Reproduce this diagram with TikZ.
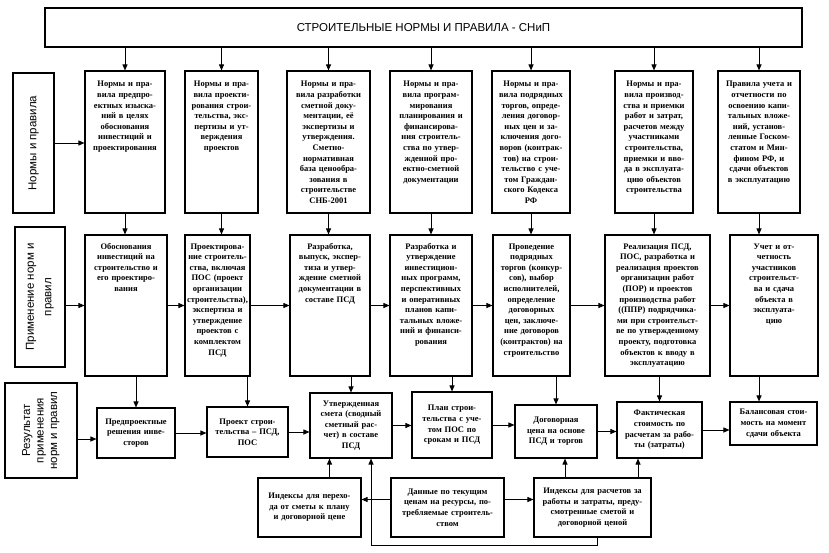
\documentclass[tikz,border=0pt]{standalone}
\usepackage{fontspec}
\setmainfont{Liberation Serif}
\newfontfamily\snipsans{Liberation Sans}
\usepackage{graphicx}
\usetikzlibrary{arrows.meta, positioning}

\begin{document}
\begin{tikzpicture}[x=1pt, y=-1pt,
  box/.style={rectangle, draw, line width=1.1pt, inner xsep=1pt, inner ysep=2pt,
    align=center, font=\fontsize{8.5}{10.6}\selectfont\bfseries},
  normbox/.style={box, text width=#1pt-2pt, text height=14pt, text depth=124pt},
  applbox/.style={box, text width=#1pt-2pt, text height=12pt, text depth=125pt},
  resbox/.style={box, text width=#1pt-2pt},
  rowlabel/.style={rectangle, draw, line width=1.1pt,
    font=\snipsans\fontsize{11.5}{13.5}\selectfont},
  arrow/.style={-{Triangle[length=6pt, width=5pt]}, line width=0.9pt}
]
\useasboundingbox (0,0) rectangle (829,553);

\node[draw, line width=1.4pt, minimum width=757pt, minimum height=39pt,
  font=\snipsans\fontsize{11.5}{13}\selectfont] (title) at (423.5,27.5)
  {СТРОИТЕЛЬНЫЕ НОРМЫ И ПРАВИЛА - СНиП};

\node[rowlabel, minimum width=41pt, minimum height=140pt] (lab1) at (33.5,143)
  {\rotatebox{90}{Нормы и правила}};
\node[rowlabel, minimum width=50pt, minimum height=140pt] (lab2) at (40,297)
  {\rotatebox{90}{\begin{tabular}{@{}c@{}}Применение норм и\\[4pt]правил\end{tabular}}};
\node[rowlabel, minimum width=72pt, minimum height=95pt] (lab3) at (41,430.5)
  {\rotatebox{90}{\begin{tabular}{@{}c@{}}Результат\\применения\\норм и правил\end{tabular}}};

\node[normbox=80] (n1) at (125,142)
  {Нормы и пра-\\вила предпро-\\ектных изыска-\\ний в целях\\обоснования\\инвестиций и\\проектирования};
\node[normbox=73] (n2) at (221.5,142)
  {Нормы и пра-\\вила проекти-\\рования строи-\\тельства, экс-\\пертизы и ут-\\верждения\\проектов};
\node[normbox=83] (n3) at (328.5,142)
  {Нормы и пра-\\вила разработки\\сметной доку-\\ментации, её\\экспертизы и\\утверждения.\\Сметно-\\нормативная\\база ценообра-\\зования в\\строительстве\\СНБ-2001};
\node[normbox=82] (n4) at (431,142)
  {Нормы и пра-\\вила програм-\\мирования\\планирования и\\финансирова-\\ния строитель-\\ства по утвер-\\жденной про-\\ектно-сметной\\документации};
\node[normbox=78] (n5) at (531,142)
  {Нормы и пра-\\вила подрядных\\торгов, опреде-\\ления договор-\\ных цен и за-\\ключения дого-\\воров (контрак-\\тов) на строи-\\тельство с уче-\\том Граждан-\\ского Кодекса\\РФ};
\node[normbox=78] (n6) at (654,142)
  {Нормы и пра-\\вила производ-\\ства и приемки\\работ и затрат,\\расчетов между\\участниками\\строительства,\\приемки и вво-\\да в эксплуата-\\цию объектов\\строительства};
\node[normbox=82] (n7) at (759,142)
  {Правила учета и\\отчетности по\\освоению капи-\\тальных вложе-\\ний, установ-\\ленные Госком-\\статом и Мин-\\фином РФ, и\\сдачи объектов\\в эксплуатацию};

\node[applbox=82] (m1) at (126,305.5)
  {Обоснования\\инвестиций на\\строительство и\\его проектиро-\\вания};
\node[applbox=65] (m2) at (217.5,305.5)
  {Проектирова-\\ние строитель-\\ства, включая\\ПОС (проект\\организации\\строительства),\\экспертиза и\\утверждение\\проектов с\\комплектом\\ПСД};
\node[applbox=80] (m3) at (330,305.5)
  {Разработка,\\выпуск, экспер-\\тиза и утвер-\\ждение сметной\\документации в\\составе ПСД};
\node[applbox=82] (m4) at (431,305.5)
  {Разработка и\\утверждение\\инвестицион-\\ных программ,\\перспективных\\и оперативных\\планов капи-\\тальных вложе-\\ний и финанси-\\рования};
\node[applbox=77] (m5) at (531.5,305.5)
  {Проведение\\подрядных\\торгов (конкур-\\сов), выбор\\исполнителей,\\определение\\договорных\\цен, заключе-\\ние договоров\\(контрактов) на\\строительство};
\node[applbox=105] (m6) at (657.5,305.5)
  {Реализация ПСД,\\ПОС, разработка и\\реализация проектов\\организации работ\\(ПОР) и проектов\\производства работ\\((ППР) подрядчика-\\ми при строительст-\\ве по утвержденному\\проекту, подготовка\\объектов к вводу в\\эксплуатацию};
\node[applbox=88] (m7) at (774,305.5)
  {Учет и от-\\четность\\участников\\строительст-\\ва и сдача\\объекта в\\эксплуата-\\цию};

\node[resbox=78, minimum height=50pt] (r1) at (136,433)
  {Предпроектные\\решения инве-\\сторов};
\node[resbox=81, minimum height=50pt] (r2) at (247.5,432)
  {Проект строи-\\тельства – ПСД,\\ПОС};
\node[resbox=82, minimum height=65pt] (r3) at (351,425.5)
  {Утвержденная\\смета (сводный\\сметный рас-\\чет) в составе\\ПСД};
\node[resbox=80, minimum height=66pt] (r4) at (452,425)
  {План строи-\\тельства с уче-\\том ПОС по\\срокам и ПСД};
\node[resbox=82, minimum height=53pt] (r5) at (556,431.5)
  {Договорная\\цена на основе\\ПСД и торгов};
\node[resbox=85, minimum height=56pt] (r6) at (659.5,430)
  {Фактическая\\стоимость по\\расчетам за рабо-\\ты (затраты)};
\node[resbox=87, minimum height=43pt] (r7) at (773.5,423.5)
  {Балансовая стои-\\мость на момент\\сдачи объекта};

\node[resbox=103, minimum height=59pt] (b1) at (309.5,507.5)
  {Индексы для перехо-\\да от сметы к плану\\и договорной цене};
\node[resbox=113, minimum height=59pt] (b2) at (447.5,507.5)
  {Данные по текущим\\ценам на ресурсы, по-\\требляемые строитель-\\ством};
\node[resbox=117, minimum height=59pt] (b3) at (592.5,507.5)
  {Индексы для расчетов за\\работы и затраты, преду-\\смотренные сметой и\\договорной ценой};

\draw[arrow] (n1.north |- title.south) -- (n1.north);
\draw[arrow] (n2.north |- title.south) -- (n2.north);
\draw[arrow] (n3.north |- title.south) -- (n3.north);
\draw[arrow] (n4.north |- title.south) -- (n4.north);
\draw[arrow] (n5.north |- title.south) -- (n5.north);
\draw[arrow] (n6.north |- title.south) -- (n6.north);
\draw[arrow] (n7.north |- title.south) -- (n7.north);

\draw[arrow] (lab1.east) -- (lab1.east -| n1.west);

\draw[arrow] (n1.south) -- (n1.south |- m1.north);
\draw[arrow] (n2.south) -- (n2.south |- m2.north);
\draw[arrow] (n3.south) -- (n3.south |- m3.north);
\draw[arrow] (n4.south) -- (n4.south |- m4.north);
\draw[arrow] (n5.south) -- (n5.south |- m5.north);
\draw[arrow] (n6.south) -- (n6.south |- m6.north);
\draw[arrow] (n7.south) -- (n7.south |- m7.north);

\draw[arrow] (m1.west -| lab2.east) -- (m1.west);
\draw[arrow] (m1.east) -- (m1.east -| m2.west);
\draw[arrow] (m2.east) -- (m2.east -| m3.west);
\draw[arrow] (m3.east) -- (m3.east -| m4.west);
\draw[arrow] (m4.east) -- (m4.east -| m5.west);
\draw[arrow] (m5.east) -- (m5.east -| m6.west);
\draw[arrow] (m6.east) -- (m6.east -| m7.west);

\draw[arrow] (r1.north |- m1.south) -- (r1.north);
\draw[arrow] (r2.north |- m2.south) -- (r2.north);
\draw[arrow] (r3.north |- m3.south) -- (r3.north);
\draw[arrow] (r4.north |- m4.south) -- (r4.north);
\draw[arrow] (r5.north |- m5.south) -- (r5.north);
\draw[arrow] (r6.north |- m6.south) -- (r6.north);
\draw[arrow] (n7.south |- m7.south) -- (n7.south |- r7.north);

\draw[arrow] ([yshift=-6pt]r1.west -| lab3.east) -- ([yshift=-6pt]r1.west);
\draw[arrow] (r1.east) -- (r1.east -| r2.west);
\draw[arrow] (r2.east) -- (r2.east -| r3.west);
\draw[arrow] (r3.east) -- (r3.east -| r4.west);
\draw[arrow] (r4.east) -- (r4.east -| r5.west);
\draw[arrow] (r5.east) -- (r5.east -| r6.west);
\draw[arrow] (r6.east) -- (r6.east -| r7.west);

\draw[arrow] ([xshift=20pt]b1.north) -- ([xshift=20pt]b1.north |- r3.south);
\draw[arrow] ([yshift=8pt]b2.west) -- ([yshift=8pt]b1.east);
\draw[arrow] ([yshift=8pt]b2.east) -- ([yshift=8pt]b3.west);
\draw[arrow] ([xshift=-27.5pt]b3.north) -- ([xshift=-27.5pt]b3.north |- r5.south);
\draw[arrow] ([xshift=45.5pt]b3.north) -- ([xshift=45.5pt]b3.north |- r6.south);
\draw[arrow] ([xshift=5pt]b3.south) -- ++(0,8) -| ([xshift=20pt]r3.south);
\end{tikzpicture}
\end{document}
